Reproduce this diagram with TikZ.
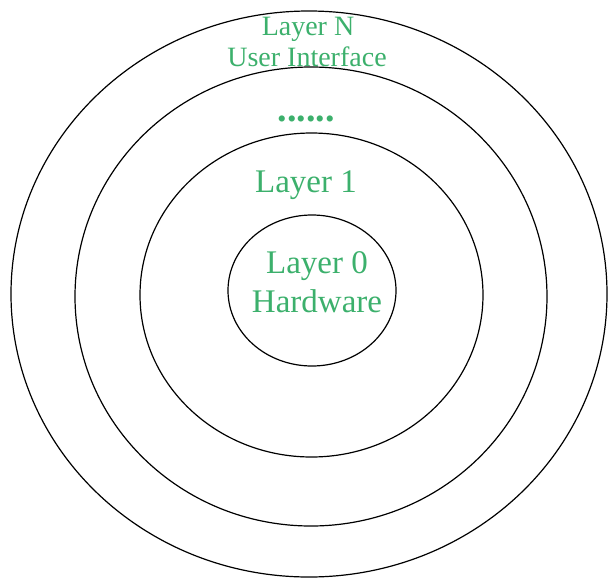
\documentclass[tikz,border=0pt]{standalone}
\usepackage{fontspec}
\setmainfont{Liberation Serif}

\begin{document}
\begin{tikzpicture}[
  x=1pt, y=-1pt,
  ring/.style={draw=black, line width=1.2pt},
  outertext/.style={font=\fontsize{28}{30}\selectfont, text=layerGreen, inner sep=0pt, anchor=base},
  innertext/.style={font=\fontsize{33}{36}\selectfont, text=layerGreen, inner sep=0pt, anchor=base},
]

\definecolor{layerGreen}{RGB}{60,176,108}

% Canvas.
\useasboundingbox (0,0) rectangle (608,579);

% Rings, outer to inner.
\draw[ring] (309,294) ellipse [x radius=298, y radius=283];
\draw[ring] (311,296.5) ellipse [x radius=236, y radius=229.5];
\draw[ring] (311.5,295) ellipse [x radius=171.5, y radius=162];
\draw[ring] (312,290.5) ellipse [x radius=84, y radius=75.5];

% Outer layer labels.
\node[outertext] (layerN) at (308,35) {Layer N};
\node[outertext] (userIface) at (307,66) {User Interface};
\node[innertext, font=\fontsize{38}{40}\selectfont] (dots) at (306,121) {\textbf{......}};

% Inner layer labels.
\node[innertext] (layerOne) at (306,192) {Layer 1};
\node[innertext] (layerZero) at (317,273) {Layer 0};
\node[innertext] (hardware) at (317,312) {Hardware};

\end{tikzpicture}
\end{document}
